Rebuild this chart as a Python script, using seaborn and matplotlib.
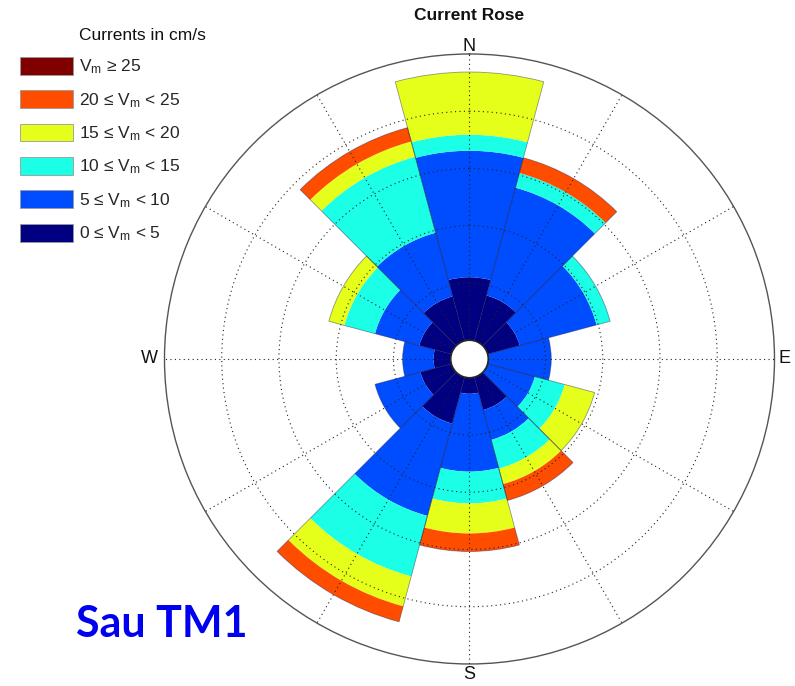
import numpy as np
import matplotlib
matplotlib.use("Agg")
import matplotlib.pyplot as plt
import seaborn as sns
from matplotlib.patches import Patch

# Direction sectors (degrees clockwise from north), 30 degree bins
direction_deg = [0, 30, 60, 90, 120, 150, 180, 210, 240, 270, 300, 330]
cardinal_deg = [0, 90, 180, 270]
cardinal_names = ["N", "E", "S", "W"]
cardinal_r = [10.25, 10.36, 10.38, 10.53]

# Frequency of occurrence (%) per direction for each speed class (cm/s)
freq_0_5 = [2.20, 1.64, 1.16, 0.00, 0.00, 1.19, 0.56, 1.68, 1.12, 0.60, 1.16, 1.61]
freq_5_10 = [4.42, 3.90, 2.78, 2.20, 1.71, 1.08, 2.72, 3.34, 1.64, 1.08, 1.60, 2.30]
freq_10_15 = [0.56, 0.53, 0.49, 0.00, 1.08, 1.04, 1.11, 2.19, 0.00, 0.00, 1.11, 2.75]
freq_15_20 = [2.19, 0.00, 0.00, 0.00, 1.08, 0.56, 1.05, 1.08, 0.00, 0.00, 0.56, 0.55]
freq_20_25 = [0.00, 0.55, 0.00, 0.00, 0.00, 0.59, 0.63, 0.56, 0.00, 0.00, 0.00, 0.50]
freq_25_up = [0.00, 0.00, 0.00, 0.00, 0.00, 0.00, 0.00, 0.00, 0.00, 0.00, 0.00, 0.00]

class_labels = [
    "0 \u2264 V$_\\mathrm{m}$ < 5",
    "5 \u2264 V$_\\mathrm{m}$ < 10",
    "10 \u2264 V$_\\mathrm{m}$ < 15",
    "15 \u2264 V$_\\mathrm{m}$ < 20",
    "20 \u2264 V$_\\mathrm{m}$ < 25",
    "V$_\\mathrm{m}$ \u2265 25",
]
ring_values = [2, 4, 6, 8]
r_max = 10

sns.set_theme(style="white")
plt.rcParams["font.family"] = ["Liberation Sans", "DejaVu Sans"]
plt.rcParams["mathtext.fontset"] = "custom"
plt.rcParams["mathtext.rm"] = "Liberation Sans"
plt.rcParams["mathtext.it"] = "Liberation Sans:italic"
plt.rcParams["mathtext.sf"] = "Liberation Sans"

# jet-style palette, one colour per speed class
palette = sns.color_palette(["#000080", "#004DFF", "#1AFFE6", "#E6FF1A", "#FF4D00", "#800000"])

fig = plt.figure(figsize=(7.95, 6.86), dpi=100)
ax = fig.add_axes([0.2069, 0.0321, 0.7673, 0.8892], projection="polar")
ax.set_theta_zero_location("N")
ax.set_theta_direction(-1)

theta = np.deg2rad(direction_deg)
width = np.deg2rad(30)
series = [freq_0_5, freq_5_10, freq_10_15, freq_15_20, freq_20_25, freq_25_up]

bottom = np.zeros(len(direction_deg))
for vals, color in zip(series, palette):
    vals = np.asarray(vals)
    ax.bar(theta, vals, width=width, bottom=bottom, color=color,
           edgecolor="none", linewidth=0, zorder=1)
    bottom = bottom + vals

# thin outline around each direction's stacked bar
ax.bar(theta, bottom, width=width, bottom=0, facecolor="none",
       edgecolor=(0.1, 0.1, 0.3, 0.45), linewidth=0.6, zorder=1.5)

ax.set_ylim(0, r_max)
ax.set_rorigin(-0.657)
ax.set_rgrids(ring_values, labels=[""] * len(ring_values))
ax.set_thetagrids(direction_deg, labels=[""] * len(direction_deg))
ax.set_axisbelow(False)
ax.grid(True, color="#222222", linestyle=(0, (1, 3)), linewidth=0.8)
for name, sp in ax.spines.items():
    if name == "polar":
        sp.set_color("#555555")
        sp.set_linewidth(1.0)
    else:
        sp.set_visible(False)
ax.set_facecolor("white")

for deg, name, r in zip(cardinal_deg, cardinal_names, cardinal_r):
    ax.text(np.deg2rad(deg), r, name, ha="center", va="center",
            fontsize=13, color="#111111", clip_on=False)

fig.text(469.5 / 795, 1 - 16 / 686, "Current Rose", ha="center", va="center",
         fontsize=12.5, fontweight="bold", color="#111111")

# legend: highest speed class on top
handles = [Patch(facecolor=c, edgecolor="#999999", linewidth=0.6) for c in palette][::-1]
fig.legend(handles, class_labels[::-1], loc="upper left",
           bbox_to_anchor=(20 / 795, 1 - 57 / 686), frameon=False,
           fontsize=12.5, handlelength=3.05, handleheight=1.2,
           handletextpad=0.35, labelspacing=0.80, borderpad=0, borderaxespad=0)
fig.text(79 / 795, 1 - 36 / 686, "Currents in cm/s", ha="left", va="center",
         fontsize=12.5, color="#111111")

fig.text(76 / 795, 1 - 637 / 686, "Sau TM1", ha="left", va="baseline",
         fontsize=31, fontweight="bold", color="#0000F0", family="Lato")

fig.savefig("out.png", dpi=100, facecolor="white")
